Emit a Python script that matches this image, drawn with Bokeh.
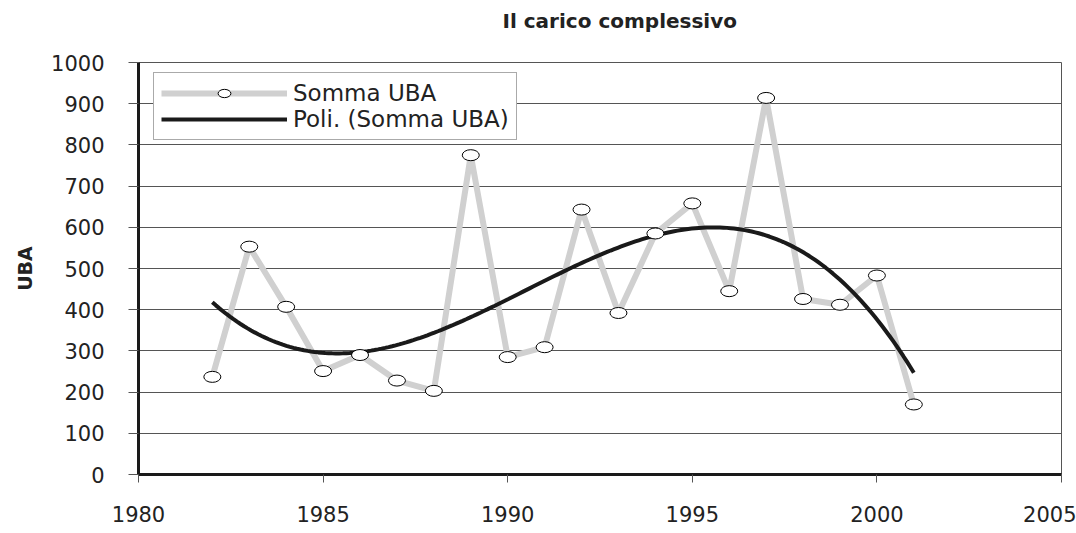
import numpy as np
from bokeh.plotting import figure
from bokeh.models import Range1d, Legend, LegendItem, FixedTicker, Title
from bokeh.embed import file_html
from bokeh.resources import INLINE

years = list(range(1982, 2002))
somma_uba = [237, 553, 407, 251, 290, 228, 203, 775, 285, 309,
             643, 392, 585, 658, 445, 914, 426, 412, 483, 170]
x_ticks = [1980, 1985, 1990, 1995, 2000, 2005]
y_ticks = list(range(0, 1001, 100))
title_text = "Il carico complessivo"
y_label = "UBA"
series_label = "Somma UBA"
trend_label = "Poli. (Somma UBA)"
trend_order = 3

# polynomial trendline (as in the spreadsheet), fitted to the series
xc = np.array(years, dtype=float) - np.mean(years)
coef = np.polyfit(xc, somma_uba, trend_order)
trend_x = np.linspace(years[0], years[-1], 200)
trend_y = np.polyval(coef, trend_x - np.mean(years))

FONT = "DejaVu Sans"
p = figure(width=1076, height=533, x_range=Range1d(1980, 2005), y_range=Range1d(0, 1000),
           output_backend="svg", toolbar_location=None, title=None,
           min_border_left=138, min_border_right=15, min_border_top=62, min_border_bottom=59)
p.background_fill_color = "white"
p.border_fill_color = "white"
p.outline_line_color = "#555555"
p.outline_line_width = 1

# spacer between the frame and the title (closest to the frame)
spacer = Title(text=" ", text_font_size="1px", standoff=21, text_color="white")
p.add_layout(spacer, "above")
main_title = Title(text=title_text, align="left", offset=364, standoff=12,
                   text_font=FONT, text_font_style="bold", text_font_size="20px",
                   text_color="#222222")
p.add_layout(main_title, "above")

p.xgrid.visible = False
p.ygrid.ticker = FixedTicker(ticks=y_ticks)
p.ygrid.grid_line_color = "#555555"
p.ygrid.grid_line_width = 1

p.xaxis.ticker = FixedTicker(ticks=x_ticks)
p.yaxis.ticker = FixedTicker(ticks=y_ticks)
for ax in (p.xaxis[0], p.yaxis[0]):
    ax.axis_line_width = 3
    ax.axis_line_color = "#1a1a1a"
    ax.major_tick_line_color = "#555555"
    ax.major_tick_line_width = 1
    ax.major_tick_in = 0
    ax.minor_tick_line_color = None
    ax.major_label_text_font = FONT
    ax.major_label_text_font_size = "21px"
    ax.major_label_text_color = "#222222"
p.xaxis.major_tick_out = 8
p.xaxis.major_label_standoff = 23
p.yaxis.major_tick_out = 10
p.yaxis.major_label_standoff = 24
p.yaxis.axis_label = y_label
p.yaxis.axis_label_text_font = FONT
p.yaxis.axis_label_text_font_style = "bold"
p.yaxis.axis_label_text_font_size = "19px"
p.yaxis.axis_label_text_color = "#222222"
p.yaxis.axis_label_standoff = 12

r_line = p.line(years, somma_uba, line_color="#d0d0d0", line_width=6)
r_trend = p.line(trend_x, trend_y, line_color="#1a1a1a", line_width=4)
r_mark = p.ellipse(x=years, y=somma_uba, width=17, height=11,
                   width_units="screen", height_units="screen",
                   fill_color="white", line_color="black", line_width=1)

legend = Legend(items=[LegendItem(label=series_label, renderers=[r_line, r_mark]),
                       LegendItem(label=trend_label, renderers=[r_trend])],
                location=(15, 334), margin=0, padding=7, spacing=0,
                glyph_width=126, glyph_height=16, label_height=26, label_standoff=6,
                label_text_font=FONT, label_text_font_size="23px", label_text_color="#222222",
                border_line_color="#555555", border_line_width=1,
                background_fill_color="white", background_fill_alpha=1)
p.add_layout(legend, "center")

open("out.html", "w").write(file_html(p, INLINE))
